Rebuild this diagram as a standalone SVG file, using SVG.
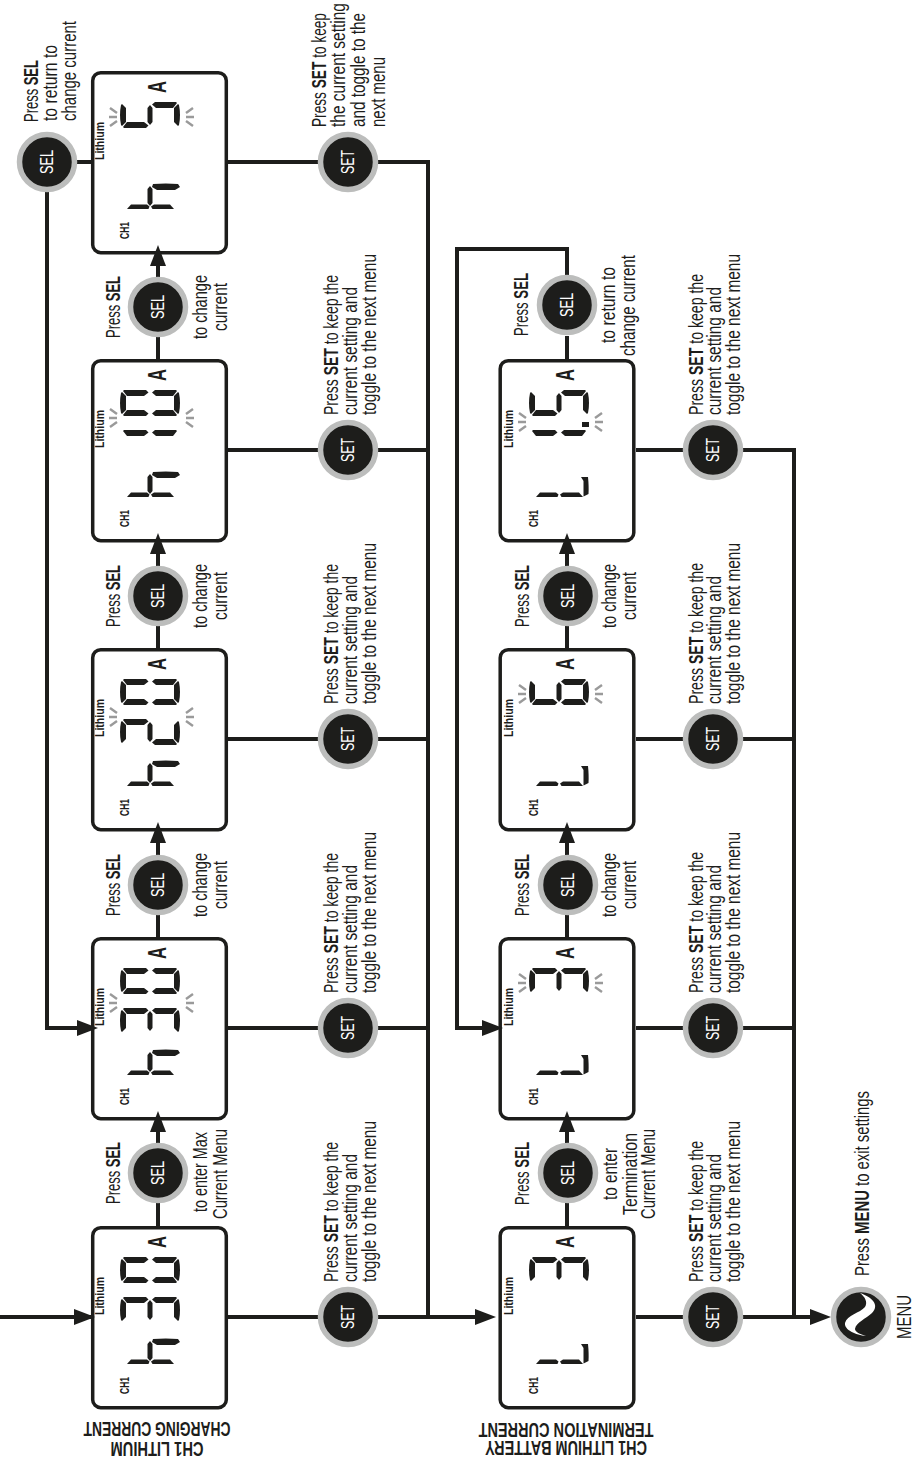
<svg xmlns="http://www.w3.org/2000/svg" width="912" height="1463" viewBox="0 0 912 1463">
<style>
text{font-family:"Liberation Sans",Arial,sans-serif;fill:#1d1d1b}
.t{font-size:20px}
.b{font-weight:700}
.l{font-size:13px;font-weight:700}
.c{font-size:13px;font-weight:700}
.a{font-size:25px;font-weight:700}
.h{font-size:20px;font-weight:700}
.w{font-size:18px;fill:#fff;text-anchor:middle}
.box{fill:#fff;stroke:#1d1d1b;stroke-width:3.5}
.ring{fill:#1d1d1b;stroke:#bcbdbc;stroke-width:5.5}
.conn{fill:none;stroke:#1d1d1b;stroke-width:4}
.seg{fill:#1d1d1b}
.bl{stroke:#9a9a9a;stroke-width:2.4;fill:none}
</style>
<defs>
<path id="sA" class="seg" d="M3,1Q13,-1 23,1L24,2L20,6L6,6L2,2Z"/>
<path id="sF" class="seg" d="M0,4L1,3L6,7L6,24L2.500,28.500L0,26Z"/>
<path id="sE" class="seg" d="M0,35L2.500,32L6,36L6,53L1,57L0,56Z"/>
<path id="sD" class="seg" d="M6,54L20,54L24,58L23,59Q13,61 3,59L2,58Z"/>
<path id="sB" class="seg" d="M26,4L25,3L20,7L20,24L23.500,28.500L26,26Z"/>
<path id="sC" class="seg" d="M26,35L23.500,32L20,36L20,53L25,57L26,56Z"/>
<path id="sG" class="seg" d="M3,30L6,27.500L20,27.500L23,30L20,32.500L6,32.500Z"/>
<path id="sF2" class="seg" d="M0,7L0,28.500L2.500,29.500L4.500,27L4.500,11Z"/>
<path id="sE2" class="seg" d="M0,54L0,32.500L2.500,31L4.500,34L4.500,50Z"/>
<path id="sCh" class="seg" d="M19,37L22,32L25,33Q26,46 25,58L22,60L19,55Z"/>
<path id="sDl" class="seg" d="M0.500,54.500L16,54.500L20,52L20,59Q10,60 3,59.500Z"/>
<g id="d0"><use href="#sA"/><use href="#sB"/><use href="#sC"/><use href="#sD"/><use href="#sE"/><use href="#sF"/></g>
<g id="d1"><use href="#sB"/><use href="#sC"/></g>
<g id="d2"><use href="#sA"/><use href="#sB"/><use href="#sG"/><use href="#sE"/><use href="#sD"/></g>
<g id="d3"><use href="#sA"/><use href="#sB"/><use href="#sG"/><use href="#sC"/><use href="#sD"/></g>
<g id="d5"><use href="#sA"/><use href="#sF"/><use href="#sG"/><use href="#sC"/><use href="#sD"/></g>
<g id="d6"><use href="#sA"/><use href="#sF"/><use href="#sG"/><use href="#sE"/><use href="#sC"/><use href="#sD"/></g>
<g id="dh"><use href="#sF2"/><use href="#sE2"/><use href="#sG"/><use href="#sCh"/></g>
<g id="dL"><use href="#sF2"/><use href="#sE2"/><use href="#sDl"/></g>
<g id="bk" class="bl"><path d="M-10,-9L-3,-4M-11,0L-3,0M-10,9L-3,4M73,-9L66,-4M74,0L66,0M73,9L66,4"/></g>
<path id="ah" fill="#1d1d1b" d="M0,0L-21,-8L-21,8Z"/>
<rect id="bx" class="box" x="1.700" y="1.700" width="133.600" height="180" rx="8"/>
</defs>
<rect width="912" height="1463" fill="#fff"/>
<g id="connectors">
<path class="conn" d="M0,1317H91M228,1317H318M378,1317H478M228,1028H318M378,1028H428M228,739H318M378,739H428M228,450H318M378,450H428M228,162H318M378,162H428V1317"/>
<path class="conn" d="M158,1226V1203M158,1143V1112M158,937V915M158,855V823M158,648V626M158,566V534M158,359V337M158,277V245"/>
<path class="conn" d="M91,162H77M47,192V1028H80"/>
<path class="conn" d="M636,1317H683M743,1317H813M636,1028H683M743,1028H794M636,739H683M743,739H794M636,450H683M743,450H794V1317"/>
<path class="conn" d="M567,1226V1203M567,1143V1112M567,937V915M567,855V823M567,648V626M567,566V534M567,359V336M567,276V249H457V1028H483"/>
</g>
<g id="box1"><use href="#bx" x="91" y="1226"/><text class="l" transform="translate(104,1315) rotate(-90)" textLength="38" lengthAdjust="spacingAndGlyphs">Lithium</text><text class="c" transform="translate(129,1394) rotate(-90)" textLength="17" lengthAdjust="spacingAndGlyphs">CH1</text><text class="a" transform="translate(166,1248) rotate(-90)" textLength="12" lengthAdjust="spacingAndGlyphs">A</text><use href="#d0" transform="translate(120,1283) rotate(-90)"/><use href="#d3" transform="translate(120,1323) rotate(-90)"/><use href="#dh" transform="translate(120,1364) rotate(-90)"/></g>
<g id="box2"><use href="#bx" x="91" y="937"/><text class="l" transform="translate(104,1026) rotate(-90)" textLength="38" lengthAdjust="spacingAndGlyphs">Lithium</text><text class="c" transform="translate(129,1105) rotate(-90)" textLength="17" lengthAdjust="spacingAndGlyphs">CH1</text><text class="a" transform="translate(166,959) rotate(-90)" textLength="12" lengthAdjust="spacingAndGlyphs">A</text><use href="#d0" transform="translate(120,994) rotate(-90)"/><use href="#d3" transform="translate(120,1034) rotate(-90)"/><use href="#dh" transform="translate(120,1075) rotate(-90)"/><use href="#bk" x="120" y="1003"/></g>
<g id="box3"><use href="#bx" x="91" y="648"/><text class="l" transform="translate(104,737) rotate(-90)" textLength="38" lengthAdjust="spacingAndGlyphs">Lithium</text><text class="c" transform="translate(129,816) rotate(-90)" textLength="17" lengthAdjust="spacingAndGlyphs">CH1</text><text class="a" transform="translate(166,670) rotate(-90)" textLength="12" lengthAdjust="spacingAndGlyphs">A</text><use href="#d0" transform="translate(120,705) rotate(-90)"/><use href="#d2" transform="translate(120,745) rotate(-90)"/><use href="#dh" transform="translate(120,786) rotate(-90)"/><use href="#bk" x="120" y="717"/></g>
<g id="box4"><use href="#bx" x="91" y="359"/><text class="l" transform="translate(104,448) rotate(-90)" textLength="38" lengthAdjust="spacingAndGlyphs">Lithium</text><text class="c" transform="translate(129,527) rotate(-90)" textLength="17" lengthAdjust="spacingAndGlyphs">CH1</text><text class="a" transform="translate(166,381) rotate(-90)" textLength="12" lengthAdjust="spacingAndGlyphs">A</text><use href="#d0" transform="translate(120,416) rotate(-90)"/><use href="#d1" transform="translate(120,456) rotate(-90)"/><use href="#dh" transform="translate(120,497) rotate(-90)"/><use href="#bk" x="120" y="418"/></g>
<g id="box5"><use href="#bx" x="91" y="71"/><text class="l" transform="translate(104,160) rotate(-90)" textLength="38" lengthAdjust="spacingAndGlyphs">Lithium</text><text class="c" transform="translate(129,239) rotate(-90)" textLength="17" lengthAdjust="spacingAndGlyphs">CH1</text><text class="a" transform="translate(166,93) rotate(-90)" textLength="12" lengthAdjust="spacingAndGlyphs">A</text><use href="#d5" transform="translate(120,128) rotate(-90)"/><use href="#dh" transform="translate(120,209) rotate(-90)"/><use href="#bk" x="120" y="117"/></g>
<g id="box6"><use href="#bx" x="498.500" y="1226"/><text class="l" transform="translate(513,1315) rotate(-90)" textLength="38" lengthAdjust="spacingAndGlyphs">Lithium</text><text class="c" transform="translate(538,1394) rotate(-90)" textLength="17" lengthAdjust="spacingAndGlyphs">CH1</text><text class="a" transform="translate(574,1248) rotate(-90)" textLength="12" lengthAdjust="spacingAndGlyphs">A</text><use href="#d3" transform="translate(529,1283) rotate(-90)"/><use href="#dL" transform="translate(529,1364) rotate(-90)"/></g>
<g id="box7"><use href="#bx" x="498.500" y="937"/><text class="l" transform="translate(513,1026) rotate(-90)" textLength="38" lengthAdjust="spacingAndGlyphs">Lithium</text><text class="c" transform="translate(538,1105) rotate(-90)" textLength="17" lengthAdjust="spacingAndGlyphs">CH1</text><text class="a" transform="translate(574,959) rotate(-90)" textLength="12" lengthAdjust="spacingAndGlyphs">A</text><use href="#d3" transform="translate(529,994) rotate(-90)"/><use href="#dL" transform="translate(529,1075) rotate(-90)"/><use href="#bk" x="529" y="983"/></g>
<g id="box8"><use href="#bx" x="498.500" y="648"/><text class="l" transform="translate(513,737) rotate(-90)" textLength="38" lengthAdjust="spacingAndGlyphs">Lithium</text><text class="c" transform="translate(538,816) rotate(-90)" textLength="17" lengthAdjust="spacingAndGlyphs">CH1</text><text class="a" transform="translate(574,670) rotate(-90)" textLength="12" lengthAdjust="spacingAndGlyphs">A</text><use href="#d6" transform="translate(529,705) rotate(-90)"/><use href="#dL" transform="translate(529,786) rotate(-90)"/><use href="#bk" x="529" y="694"/></g>
<g id="box9"><use href="#bx" x="498.500" y="359"/><text class="l" transform="translate(513,448) rotate(-90)" textLength="38" lengthAdjust="spacingAndGlyphs">Lithium</text><text class="c" transform="translate(538,527) rotate(-90)" textLength="17" lengthAdjust="spacingAndGlyphs">CH1</text><text class="a" transform="translate(574,381) rotate(-90)" textLength="12" lengthAdjust="spacingAndGlyphs">A</text><use href="#d5" transform="translate(529,416) rotate(-90)"/><use href="#d1" transform="translate(529,456) rotate(-90)"/><rect x="582" y="422" width="7" height="5" class="seg"/><use href="#dL" transform="translate(529,497) rotate(-90)"/><use href="#bk" x="529" y="422"/></g>
<g id="arrowheads">
<use href="#ah" x="95" y="1317"/><use href="#ah" x="98" y="1028"/><use href="#ah" x="496" y="1317"/><use href="#ah" x="503" y="1028"/><use href="#ah" x="831" y="1317"/>
<use href="#ah" transform="translate(158,1111) rotate(-90)"/><use href="#ah" transform="translate(158,822) rotate(-90)"/><use href="#ah" transform="translate(158,533) rotate(-90)"/><use href="#ah" transform="translate(158,245) rotate(-90)"/>
<use href="#ah" transform="translate(567,1111) rotate(-90)"/><use href="#ah" transform="translate(567,822) rotate(-90)"/><use href="#ah" transform="translate(567,533) rotate(-90)"/>
</g>
<g id="sel-buttons">
<g id="sel1"><circle class="ring" cx="158" cy="1173" r="27.500"/><text class="w" transform="translate(164,1173) rotate(-90)" textLength="24" lengthAdjust="spacingAndGlyphs">SEL</text></g>
<g id="sel2"><circle class="ring" cx="158" cy="885" r="27.500"/><text class="w" transform="translate(164,885) rotate(-90)" textLength="24" lengthAdjust="spacingAndGlyphs">SEL</text></g>
<g id="sel3"><circle class="ring" cx="158" cy="596" r="27.500"/><text class="w" transform="translate(164,596) rotate(-90)" textLength="24" lengthAdjust="spacingAndGlyphs">SEL</text></g>
<g id="sel4"><circle class="ring" cx="158" cy="307" r="27.500"/><text class="w" transform="translate(164,307) rotate(-90)" textLength="24" lengthAdjust="spacingAndGlyphs">SEL</text></g>
<g id="sel5"><circle class="ring" cx="47" cy="162" r="27.500"/><text class="w" transform="translate(53,162) rotate(-90)" textLength="24" lengthAdjust="spacingAndGlyphs">SEL</text></g>
<g id="sel6"><circle class="ring" cx="568" cy="1173" r="27.500"/><text class="w" transform="translate(574,1173) rotate(-90)" textLength="24" lengthAdjust="spacingAndGlyphs">SEL</text></g>
<g id="sel7"><circle class="ring" cx="568" cy="885" r="27.500"/><text class="w" transform="translate(574,885) rotate(-90)" textLength="24" lengthAdjust="spacingAndGlyphs">SEL</text></g>
<g id="sel8"><circle class="ring" cx="568" cy="596" r="27.500"/><text class="w" transform="translate(574,596) rotate(-90)" textLength="24" lengthAdjust="spacingAndGlyphs">SEL</text></g>
<g id="sel9"><circle class="ring" cx="567" cy="305" r="27.500"/><text class="w" transform="translate(573,305) rotate(-90)" textLength="24" lengthAdjust="spacingAndGlyphs">SEL</text></g>
</g>
<g id="set-buttons">
<g id="set1"><circle class="ring" cx="348" cy="1317" r="27.500"/><text class="w" transform="translate(354,1317) rotate(-90)" textLength="24" lengthAdjust="spacingAndGlyphs">SET</text></g>
<g id="set2"><circle class="ring" cx="348" cy="1028" r="27.500"/><text class="w" transform="translate(354,1028) rotate(-90)" textLength="24" lengthAdjust="spacingAndGlyphs">SET</text></g>
<g id="set3"><circle class="ring" cx="348" cy="739" r="27.500"/><text class="w" transform="translate(354,739) rotate(-90)" textLength="24" lengthAdjust="spacingAndGlyphs">SET</text></g>
<g id="set4"><circle class="ring" cx="348" cy="450" r="27.500"/><text class="w" transform="translate(354,450) rotate(-90)" textLength="24" lengthAdjust="spacingAndGlyphs">SET</text></g>
<g id="set5"><circle class="ring" cx="348" cy="162" r="27.500"/><text class="w" transform="translate(354,162) rotate(-90)" textLength="24" lengthAdjust="spacingAndGlyphs">SET</text></g>
<g id="set6"><circle class="ring" cx="713" cy="1317" r="27.500"/><text class="w" transform="translate(719,1317) rotate(-90)" textLength="24" lengthAdjust="spacingAndGlyphs">SET</text></g>
<g id="set7"><circle class="ring" cx="713" cy="1028" r="27.500"/><text class="w" transform="translate(719,1028) rotate(-90)" textLength="24" lengthAdjust="spacingAndGlyphs">SET</text></g>
<g id="set8"><circle class="ring" cx="713" cy="739" r="27.500"/><text class="w" transform="translate(719,739) rotate(-90)" textLength="24" lengthAdjust="spacingAndGlyphs">SET</text></g>
<g id="set9"><circle class="ring" cx="713" cy="450" r="27.500"/><text class="w" transform="translate(719,450) rotate(-90)" textLength="24" lengthAdjust="spacingAndGlyphs">SET</text></g>
</g>
<g id="menu-button"><circle class="ring" cx="861" cy="1317" r="27.500"/><path fill="#fff" d="M860,1293C872,1297 880,1305 872,1313C866,1319 856,1322 855,1329C855,1332 860,1334 866,1336C856,1335 844,1330 845,1323C847,1315 860,1313 865,1307C868,1302 865,1297 860,1293Z"/></g>
<g id="labels">
<text class="h" transform="translate(157,1442) rotate(180)" text-anchor="middle" textLength="93" lengthAdjust="spacingAndGlyphs">CH1 LITHIUM</text>
<text class="h" transform="translate(157,1422) rotate(180)" text-anchor="middle" textLength="147" lengthAdjust="spacingAndGlyphs">CHARGING CURRENT</text>
<text class="h" transform="translate(566,1441) rotate(180)" text-anchor="middle" textLength="162" lengthAdjust="spacingAndGlyphs">CH1 LITHIUM BATTERY</text>
<text class="h" transform="translate(566,1423) rotate(180)" text-anchor="middle" textLength="175" lengthAdjust="spacingAndGlyphs">TERMINATION CURRENT</text>

<text class="t" transform="translate(120,1204) rotate(-90)" textLength="62" lengthAdjust="spacingAndGlyphs">Press <tspan class="b">SEL</tspan></text>
<text class="t" transform="translate(207,1212) rotate(-90)" textLength="80" lengthAdjust="spacingAndGlyphs">to enter Max</text>
<text class="t" transform="translate(227,1219) rotate(-90)" textLength="90" lengthAdjust="spacingAndGlyphs">Current Menu</text>
<text class="t" transform="translate(120,916) rotate(-90)" textLength="62" lengthAdjust="spacingAndGlyphs">Press <tspan class="b">SEL</tspan></text>
<text class="t" transform="translate(207,917) rotate(-90)" textLength="64" lengthAdjust="spacingAndGlyphs">to change</text>
<text class="t" transform="translate(227,909) rotate(-90)" textLength="48" lengthAdjust="spacingAndGlyphs">current</text>
<text class="t" transform="translate(120,627) rotate(-90)" textLength="62" lengthAdjust="spacingAndGlyphs">Press <tspan class="b">SEL</tspan></text>
<text class="t" transform="translate(207,628) rotate(-90)" textLength="64" lengthAdjust="spacingAndGlyphs">to change</text>
<text class="t" transform="translate(227,620) rotate(-90)" textLength="48" lengthAdjust="spacingAndGlyphs">current</text>
<text class="t" transform="translate(120,338) rotate(-90)" textLength="62" lengthAdjust="spacingAndGlyphs">Press <tspan class="b">SEL</tspan></text>
<text class="t" transform="translate(207,339) rotate(-90)" textLength="64" lengthAdjust="spacingAndGlyphs">to change</text>
<text class="t" transform="translate(227,331) rotate(-90)" textLength="48" lengthAdjust="spacingAndGlyphs">current</text>
<text class="t" transform="translate(38,122) rotate(-90) scale(.72,1)" textLength="86" lengthAdjust="spacingAndGlyphs">Press <tspan class="b">SEL</tspan></text>
<text class="t" transform="translate(57,121) rotate(-90) scale(.72,1)" textLength="105.600" lengthAdjust="spacingAndGlyphs">to return to</text>
<text class="t" transform="translate(76,121) rotate(-90) scale(.72,1)" textLength="138.900" lengthAdjust="spacingAndGlyphs">change current</text>

<text class="t" transform="translate(338,1282) rotate(-90)" textLength="140" lengthAdjust="spacingAndGlyphs">Press <tspan class="b">SET</tspan> to keep the</text>
<text class="t" transform="translate(357,1282) rotate(-90)" textLength="128" lengthAdjust="spacingAndGlyphs">current setting and</text>
<text class="t" transform="translate(376,1282) rotate(-90)" textLength="161" lengthAdjust="spacingAndGlyphs">toggle to the next menu</text>
<text class="t" transform="translate(338,993) rotate(-90)" textLength="140" lengthAdjust="spacingAndGlyphs">Press <tspan class="b">SET</tspan> to keep the</text>
<text class="t" transform="translate(357,993) rotate(-90)" textLength="128" lengthAdjust="spacingAndGlyphs">current setting and</text>
<text class="t" transform="translate(376,993) rotate(-90)" textLength="161" lengthAdjust="spacingAndGlyphs">toggle to the next menu</text>
<text class="t" transform="translate(338,704) rotate(-90)" textLength="140" lengthAdjust="spacingAndGlyphs">Press <tspan class="b">SET</tspan> to keep the</text>
<text class="t" transform="translate(357,704) rotate(-90)" textLength="128" lengthAdjust="spacingAndGlyphs">current setting and</text>
<text class="t" transform="translate(376,704) rotate(-90)" textLength="161" lengthAdjust="spacingAndGlyphs">toggle to the next menu</text>
<text class="t" transform="translate(338,415) rotate(-90)" textLength="140" lengthAdjust="spacingAndGlyphs">Press <tspan class="b">SET</tspan> to keep the</text>
<text class="t" transform="translate(357,415) rotate(-90)" textLength="128" lengthAdjust="spacingAndGlyphs">current setting and</text>
<text class="t" transform="translate(376,415) rotate(-90)" textLength="161" lengthAdjust="spacingAndGlyphs">toggle to the next menu</text>
<text class="t" transform="translate(326,127) rotate(-90) scale(.72,1)" textLength="158.300" lengthAdjust="spacingAndGlyphs">Press <tspan class="b">SET</tspan> to keep</text>
<text class="t" transform="translate(345,127) rotate(-90) scale(.72,1)" textLength="172.200" lengthAdjust="spacingAndGlyphs">the current setting</text>
<text class="t" transform="translate(365,127) rotate(-90) scale(.72,1)" textLength="158.300" lengthAdjust="spacingAndGlyphs">and toggle to the</text>
<text class="t" transform="translate(385,127) rotate(-90) scale(.72,1)" textLength="97.200" lengthAdjust="spacingAndGlyphs">next menu</text>

<text class="t" transform="translate(529,1205) rotate(-90)" textLength="63" lengthAdjust="spacingAndGlyphs">Press <tspan class="b">SEL</tspan></text>
<text class="t" transform="translate(617,1200) rotate(-90)" textLength="52" lengthAdjust="spacingAndGlyphs">to enter</text>
<text class="t" transform="translate(637,1215) rotate(-90)" textLength="82" lengthAdjust="spacingAndGlyphs">Termination</text>
<text class="t" transform="translate(655,1219) rotate(-90)" textLength="90" lengthAdjust="spacingAndGlyphs">Current Menu</text>
<text class="t" transform="translate(529,916) rotate(-90)" textLength="62" lengthAdjust="spacingAndGlyphs">Press <tspan class="b">SEL</tspan></text>
<text class="t" transform="translate(616,917) rotate(-90)" textLength="64" lengthAdjust="spacingAndGlyphs">to change</text>
<text class="t" transform="translate(636,909) rotate(-90)" textLength="48" lengthAdjust="spacingAndGlyphs">current</text>
<text class="t" transform="translate(529,627) rotate(-90)" textLength="62" lengthAdjust="spacingAndGlyphs">Press <tspan class="b">SEL</tspan></text>
<text class="t" transform="translate(616,628) rotate(-90)" textLength="64" lengthAdjust="spacingAndGlyphs">to change</text>
<text class="t" transform="translate(636,620) rotate(-90)" textLength="48" lengthAdjust="spacingAndGlyphs">current</text>
<text class="t" transform="translate(528,336) rotate(-90)" textLength="63" lengthAdjust="spacingAndGlyphs">Press <tspan class="b">SEL</tspan></text>
<text class="t" transform="translate(615,343) rotate(-90)" textLength="76" lengthAdjust="spacingAndGlyphs">to return to</text>
<text class="t" transform="translate(635,356) rotate(-90)" textLength="101" lengthAdjust="spacingAndGlyphs">change current</text>

<text class="t" transform="translate(703,1282) rotate(-90)" textLength="141" lengthAdjust="spacingAndGlyphs">Press <tspan class="b">SET</tspan> to keep the</text>
<text class="t" transform="translate(721,1282) rotate(-90)" textLength="128" lengthAdjust="spacingAndGlyphs">current setting and</text>
<text class="t" transform="translate(740,1282) rotate(-90)" textLength="161" lengthAdjust="spacingAndGlyphs">toggle to the next menu</text>
<text class="t" transform="translate(703,993) rotate(-90)" textLength="141" lengthAdjust="spacingAndGlyphs">Press <tspan class="b">SET</tspan> to keep the</text>
<text class="t" transform="translate(721,993) rotate(-90)" textLength="128" lengthAdjust="spacingAndGlyphs">current setting and</text>
<text class="t" transform="translate(740,993) rotate(-90)" textLength="161" lengthAdjust="spacingAndGlyphs">toggle to the next menu</text>
<text class="t" transform="translate(703,704) rotate(-90)" textLength="141" lengthAdjust="spacingAndGlyphs">Press <tspan class="b">SET</tspan> to keep the</text>
<text class="t" transform="translate(721,704) rotate(-90)" textLength="128" lengthAdjust="spacingAndGlyphs">current setting and</text>
<text class="t" transform="translate(740,704) rotate(-90)" textLength="161" lengthAdjust="spacingAndGlyphs">toggle to the next menu</text>
<text class="t" transform="translate(703,415) rotate(-90)" textLength="141" lengthAdjust="spacingAndGlyphs">Press <tspan class="b">SET</tspan> to keep the</text>
<text class="t" transform="translate(721,415) rotate(-90)" textLength="128" lengthAdjust="spacingAndGlyphs">current setting and</text>
<text class="t" transform="translate(740,415) rotate(-90)" textLength="161" lengthAdjust="spacingAndGlyphs">toggle to the next menu</text>

<text class="t" transform="translate(869,1276) rotate(-90)" textLength="185" lengthAdjust="spacingAndGlyphs">Press <tspan class="b">MENU</tspan> to exit settings</text>
<text class="t" transform="translate(911,1339) rotate(-90) scale(.72,1)" textLength="61.100" lengthAdjust="spacingAndGlyphs">MENU</text>
</g>
</svg>
